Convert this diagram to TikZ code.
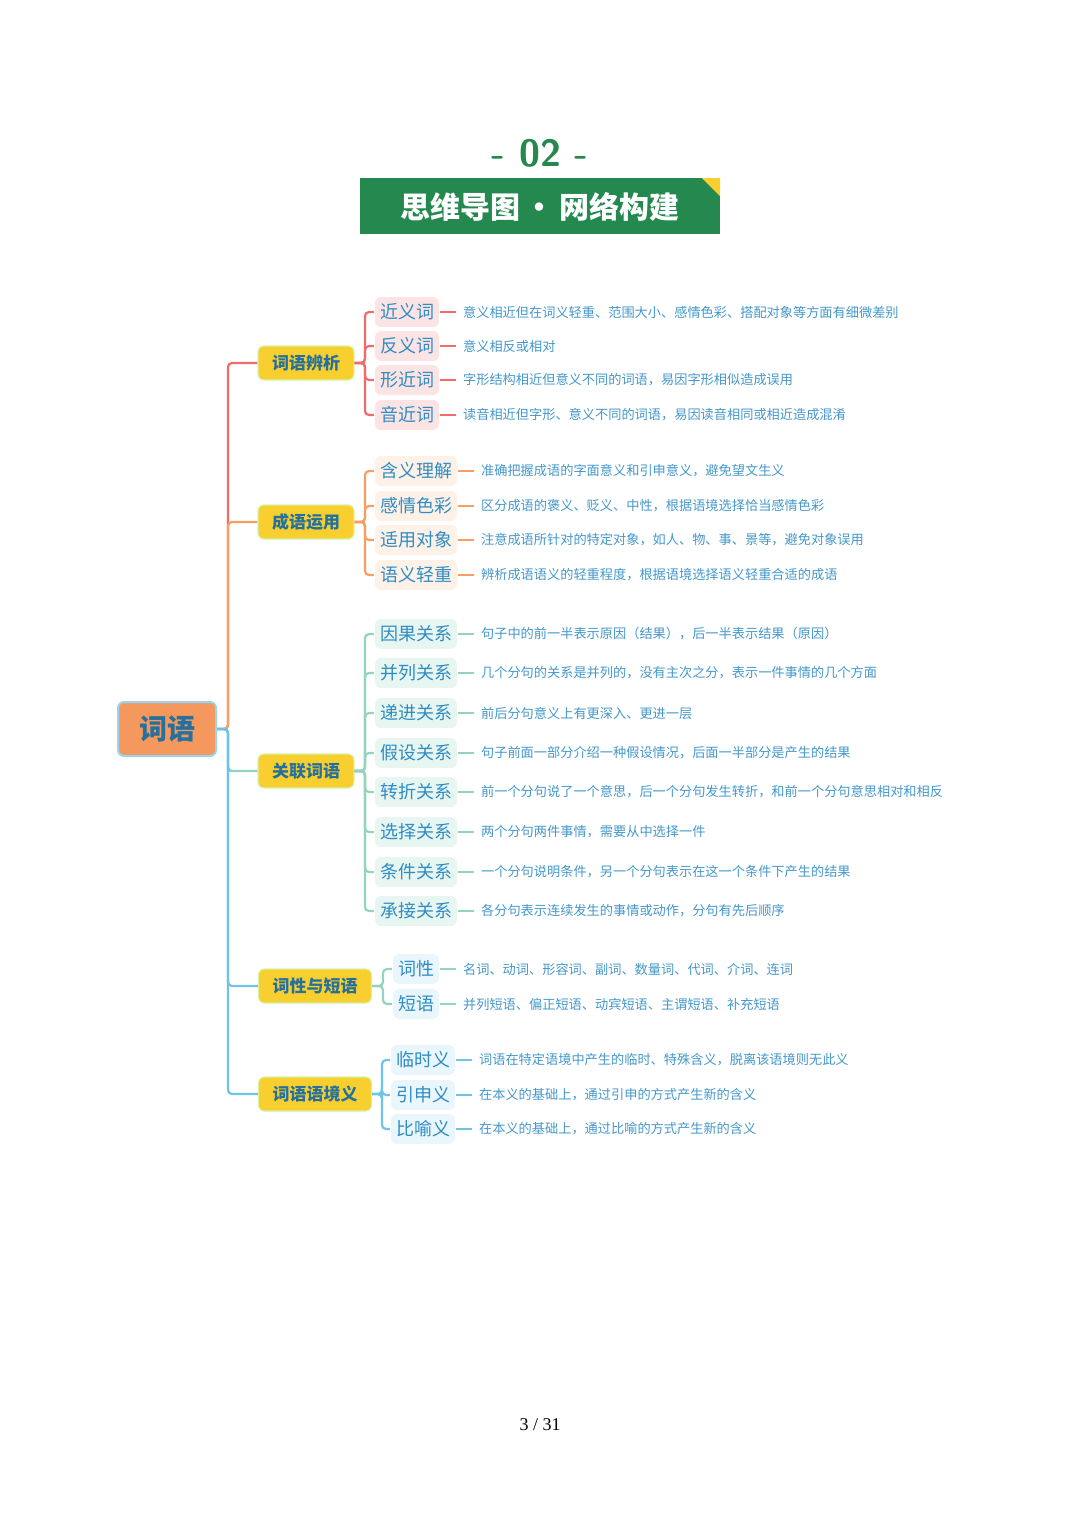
\documentclass[tikz,border=0pt]{standalone}
\usepackage{fontspec}
\setmainfont{Liberation Serif}
\newfontfamily\cjk{Noto Sans CJK SC}
\definecolor{cRed}{HTML}{F26B6B}
\definecolor{cOrange}{HTML}{F5A062}
\definecolor{cGreen}{HTML}{93D5BC}
\definecolor{cBlue}{HTML}{6EC3EA}
\definecolor{cText}{HTML}{2F8CC4}
\definecolor{cTitle}{HTML}{24884F}
\definecolor{cYellow}{HTML}{F8CF2E}
\begin{document}
\begin{tikzpicture}[x=0.5pt,y=-0.5pt,line width=1.1pt,rounded corners=2pt]
    \tikzstyle{midbox}=[fill=cYellow,draw=cYellow!60!green!40,line width=0.6pt,rounded corners=3pt,
        minimum height=17pt,inner xsep=7pt,text=cText!80!black,font=\cjk\bfseries\fontsize{8.5}{10}\selectfont]
    \tikzstyle{leaf}=[rounded corners=3pt,minimum height=14pt,inner xsep=2.5pt,text=cText,
        font=\cjk\fontsize{9}{10}\selectfont]
    \tikzstyle{desc}=[anchor=west,inner sep=0pt,text=cText!90,font=\cjk\fontsize{6.6}{8}\selectfont]
    \tikzstyle{tie}=[shorten >=3pt]
    \useasboundingbox (0,0) rectangle (1080,1528);

    % Title
    \node[text=cTitle,font=\bfseries\sffamily\fontsize{19}{20}\selectfont] (num) at (540,153) {- 02 -};
    \node[fill=cTitle,minimum width=180pt,minimum height=28pt,rounded corners=0pt] (banner) at (540,206) {};
    \fill[cYellow,rounded corners=0pt] (702,178) -- (720,178) -- (720,196) -- cycle;
    \node[text=white,font=\cjk\bfseries\fontsize{15}{16}\selectfont] (ttl) at (540,207) {思维导图\,·\,网络构建};

    % Root
    \node[fill=cOrange!95!red,draw=cBlue!70,line width=1pt,rounded corners=3pt,minimum width=49pt,
        minimum height=27pt,text=cText!80!black,font=\cjk\bfseries\fontsize{14}{16}\selectfont] (root) at (167,729) {词语};

    % Middle nodes
    \node[midbox] (m1) at (306,363) {词语辨析};
    \node[midbox] (m2) at (306,522) {成语运用};
    \node[midbox] (m3) at (306,771) {关联词语};
    \node[midbox] (m4) at (315,986) {词性与短语};
    \node[midbox] (m5) at (315,1094) {词语语境义};

    % Trunk
    \draw[cRed] (root.east) -- (228,729) |- (m1.west);
    \draw[cOrange] (root.east) -- (228,729) |- (m2.west);
    \draw[cBlue] (root.east) -- (228,729) |- (228,771) -- (m3.west);
    \draw[cGreen] (228,771) -- (m3.west);
    \draw[cBlue] (root.east) -- (228,729) |- (m4.west);
    \draw[cBlue] (root.east) -- (228,729) |- (m5.west);

    % Group 1
    \foreach \i/\y/\t/\d in {1/312/近义词/意义相近但在词义轻重、范围大小、感情色彩、搭配对象等方面有细微差别,
        2/346/反义词/意义相反或相对,
        3/380/形近词/字形结构相近但意义不同的词语，易因字形相似造成误用,
        4/415/音近词/读音相近但字形、意义不同的词语，易因读音相同或相近造成混淆}
    {
        \node[leaf,fill=cRed!18] (a-\i) at (407,\y) {\t};
        \node[desc] (da-\i) at (462,\y) {\d};
        \draw[cRed] (m1.east) -- (365,363) |- (a-\i.west);
        \draw[cRed,tie] (a-\i.east) -- (da-\i.west);
    }

    % Group 2
    \foreach \i/\y/\t/\d in {1/471/含义理解/准确把握成语的字面意义和引申意义，避免望文生义,
        2/506/感情色彩/区分成语的褒义、贬义、中性，根据语境选择恰当感情色彩,
        3/540/适用对象/注意成语所针对的特定对象，如人、物、事、景等，避免对象误用,
        4/575/语义轻重/辨析成语语义的轻重程度，根据语境选择语义轻重合适的成语}
    {
        \node[leaf,fill=cOrange!15] (b-\i) at (416,\y) {\t};
        \node[desc] (db-\i) at (480,\y) {\d};
        \draw[cOrange] (m2.east) -- (365,522) |- (b-\i.west);
        \draw[cOrange,tie] (b-\i.east) -- (db-\i.west);
    }

    % Group 3
    \foreach \i/\y/\t/\d in {1/634/因果关系/句子中的前一半表示原因（结果），后一半表示结果（原因）,
        2/673/并列关系/几个分句的关系是并列的，没有主次之分，表示一件事情的几个方面,
        3/713/递进关系/前后分句意义上有更深入、更进一层,
        4/753/假设关系/句子前面一部分介绍一种假设情况，后面一半部分是产生的结果,
        5/792/转折关系/前一个分句说了一个意思，后一个分句发生转折，和前一个分句意思相对和相反,
        6/832/选择关系/两个分句两件事情，需要从中选择一件,
        7/872/条件关系/一个分句说明条件，另一个分句表示在这一个条件下产生的结果,
        8/911/承接关系/各分句表示连续发生的事情或动作，分句有先后顺序}
    {
        \node[leaf,fill=cGreen!22] (c-\i) at (416,\y) {\t};
        \node[desc] (dc-\i) at (480,\y) {\d};
        \draw[cGreen] (m3.east) -- (365,771) |- (c-\i.west);
        \draw[cGreen,tie] (c-\i.east) -- (dc-\i.west);
    }

    % Group 4
    \foreach \i/\y/\t/\d in {1/969/词性/名词、动词、形容词、副词、数量词、代词、介词、连词,
        2/1004/短语/并列短语、偏正短语、动宾短语、主谓短语、补充短语}
    {
        \node[leaf,fill=cBlue!15] (d-\i) at (416,\y) {\t};
        \node[desc] (dd-\i) at (462,\y) {\d};
        \draw[cGreen] (m4.east) -- (383,986) |- (d-\i.west);
        \draw[cGreen,tie] (d-\i.east) -- (dd-\i.west);
    }

    % Group 5
    \foreach \i/\y/\t/\d in {1/1060/临时义/词语在特定语境中产生的临时、特殊含义，脱离该语境则无此义,
        2/1095/引申义/在本义的基础上，通过引申的方式产生新的含义,
        3/1129/比喻义/在本义的基础上，通过比喻的方式产生新的含义}
    {
        \node[leaf,fill=cBlue!15] (e-\i) at (423,\y) {\t};
        \node[desc] (de-\i) at (478,\y) {\d};
        \draw[cBlue] (m5.east) -- (382,1094) |- (e-\i.west);
        \draw[cBlue,tie] (e-\i.east) -- (de-\i.west);
    }

    % Page number
    \node[font=\fontsize{9}{10}\selectfont] (page) at (540,1425) {3 / 31};
\end{tikzpicture}
\end{document}
